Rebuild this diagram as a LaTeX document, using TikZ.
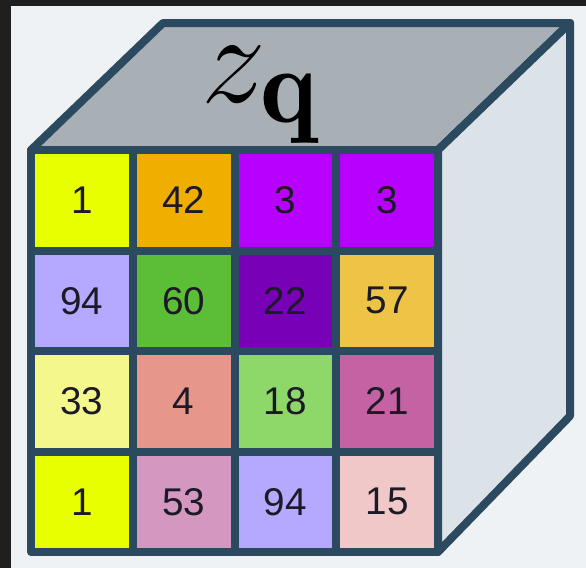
\documentclass[tikz,border=0pt]{standalone}
\usepackage{fontspec}
\newfontfamily\numfont{Liberation Sans}
\definecolor{bgdark}{HTML}{1F1F1F}
\definecolor{bglight}{HTML}{EEF2F4}
\definecolor{frame}{HTML}{2B4A5F}
\definecolor{topface}{HTML}{A8B0B5}
\definecolor{sideface}{HTML}{DCE3E8}
\definecolor{txt}{HTML}{1C1A26}
\definecolor{cA}{HTML}{E8FF00}
\definecolor{cB}{HTML}{F0AE00}
\definecolor{cC}{HTML}{B800FF}
\definecolor{cD}{HTML}{B4A8FF}
\definecolor{cE}{HTML}{5CBE36}
\definecolor{cF}{HTML}{7800B6}
\definecolor{cG}{HTML}{EEC446}
\definecolor{cH}{HTML}{F4F88C}
\definecolor{cI}{HTML}{E6968A}
\definecolor{cJ}{HTML}{8ED86A}
\definecolor{cK}{HTML}{C462A4}
\definecolor{cL}{HTML}{D498C0}
\definecolor{cM}{HTML}{F0C8C8}
\tikzset{
  facestyle/.style={draw=frame, line width=6pt, line join=round},
  cell/.style={draw=frame, line width=6pt, line join=round, minimum width=76.31pt, minimum height=75.375pt, inner sep=0pt, text=txt, font=\numfont\fontsize{29}{32}\selectfont},
}
\begin{document}
\begin{tikzpicture}[x=0.75pt, y=-0.75pt]
\useasboundingbox (0,0) rectangle (586,568);
\fill[bgdark] (0,0) rectangle (586,568);
\fill[bglight] (11,6) rectangle (586,568);
% faces
\draw[facestyle, fill=topface] (31,150) -- (163,23) -- (570,23) -- (438,150) -- cycle;
\draw[facestyle, fill=sideface] (438,150) -- (570,23) -- (570,416) -- (438,552) -- cycle;
% cells
\node[cell, fill=cA] (r1c1) at (81.875,200.25) {1};
\node[cell, fill=cB] (r1c2) at (183.625,200.25) {42};
\node[cell, fill=cC] (r1c3) at (285.375,200.25) {3};
\node[cell, fill=cC] (r1c4) at (387.125,200.25) {3};
\node[cell, fill=cD] (r2c1) at (81.875,300.75) {94};
\node[cell, fill=cE] (r2c2) at (183.625,300.75) {60};
\node[cell, fill=cF] (r2c3) at (285.375,300.75) {22};
\node[cell, fill=cG] (r2c4) at (387.125,300.75) {57};
\node[cell, fill=cH] (r3c1) at (81.875,401.25) {33};
\node[cell, fill=cI] (r3c2) at (183.625,401.25) {4};
\node[cell, fill=cJ] (r3c3) at (285.375,401.25) {18};
\node[cell, fill=cK] (r3c4) at (387.125,401.25) {21};
\node[cell, fill=cA] (r4c1) at (81.875,501.75) {1};
\node[cell, fill=cL] (r4c2) at (183.625,501.75) {53};
\node[cell, fill=cD] (r4c3) at (285.375,501.75) {94};
\node[cell, fill=cM] (r4c4) at (387.125,501.75) {15};
% label
\node[inner sep=0pt, scale=3.9, font=\fontsize{24.88}{28}\selectfont] (title) at (261,95) {$z_{\mathbf{q}}$};
\end{tikzpicture}
\end{document}
